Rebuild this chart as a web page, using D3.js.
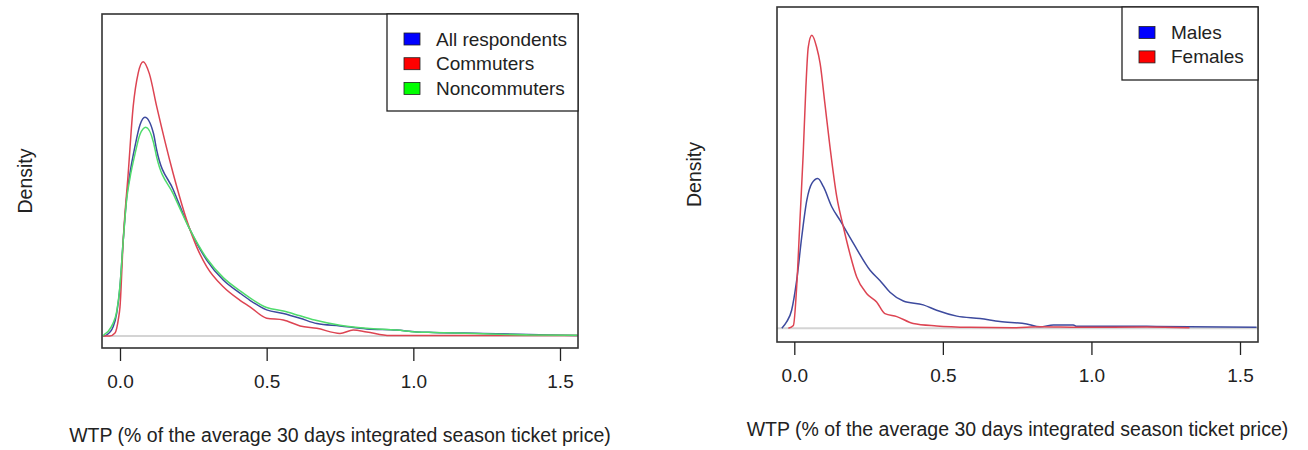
<!DOCTYPE html>
<html>
<head>
<meta charset="utf-8">
<script src="https://cdn.jsdelivr.net/npm/d3@7"></script>
<style>
  body { margin: 0; background: #fff; }
  text { font-family: "Liberation Sans", Arial, sans-serif; fill: #222; }
</style>
</head>
<body>
<div id="viz"></div>
<script>
// tick labels shared by both panels
var xTicks = [0, 0.5, 1.0, 1.5]

// left panel: density of WTP, [wtp, density]
var allRespondents = [[-0.058,0],[-0.045,0.02],[-0.023,0.16],[-0.011,0.39],[0,0.83],[0.011,1.61],[0.023,2.34],
  [0.034,2.73],[0.051,3.18],[0.068,3.54],[0.085,3.67],[0.114,3.40],[0.125,3.12],[0.182,2.45],[0.239,1.78],
  [0.296,1.27],[0.352,0.94],[0.409,0.72],[0.443,0.60],[0.5,0.44],[0.557,0.38],[0.614,0.30],[0.671,0.21],
  [0.75,0.17],[0.841,0.12],[0.943,0.10],[1.011,0.07],[1.068,0.06],[1.239,0.045],[1.466,0.02],[1.56,0.01]]
var commuters = [[-0.058,0],[-0.035,0],[-0.017,0.05],[-0.005,0.3],[0,0.49],[0.011,1.61],[0.028,2.73],
  [0.045,3.85],[0.062,4.41],[0.079,4.60],[0.10,4.40],[0.125,3.85],[0.181,2.73],[0.227,1.95],[0.261,1.50],
  [0.296,1.16],[0.351,0.83],[0.409,0.60],[0.443,0.49],[0.5,0.30],[0.557,0.27],[0.614,0.17],[0.671,0.13],
  [0.75,0.045],[0.795,0.10],[0.841,0.07],[0.92,0.01],[1.1,0.01],[1.31,0.008],[1.56,0.01]]
var noncommuters = [[-0.058,0],[-0.055,0.02],[-0.04,0.08],[-0.025,0.2],[-0.011,0.42],[0,0.85],[0.011,1.6],
  [0.023,2.3],[0.034,2.65],[0.051,3.05],[0.068,3.38],[0.088,3.50],[0.114,3.25],[0.125,3.0],[0.182,2.38],
  [0.239,1.78],[0.296,1.3],[0.352,0.98],[0.409,0.76],[0.443,0.64],[0.5,0.48],[0.557,0.42],[0.614,0.34],
  [0.671,0.26],[0.75,0.18],[0.841,0.13],[0.943,0.10],[1.011,0.07],[1.068,0.06],[1.239,0.04],[1.4,0.02],[1.56,0.015]]

// right panel
var males = [[-0.042,0],[-0.026,0.13],[-0.009,0.37],[0.008,0.98],[0.025,1.87],[0.042,2.62],[0.059,2.97],
  [0.079,3.07],[0.098,2.90],[0.126,2.49],[0.154,2.21],[0.199,1.74],[0.255,1.19],[0.288,0.98],[0.322,0.74],
  [0.367,0.56],[0.434,0.48],[0.479,0.37],[0.547,0.25],[0.625,0.20],[0.692,0.14],[0.782,0.09],[0.827,0.03],
  [0.872,0.07],[0.939,0.07],[0.95,0.04],[1.186,0.04],[1.556,0.02]]
var females = [[-0.02,0],[-0.003,0.06],[0.008,0.85],[0.019,2.21],[0.030,3.58],[0.039,4.94],[0.047,5.76],
  [0.059,6.0],[0.075,5.76],[0.087,5.42],[0.103,4.60],[0.120,3.72],[0.143,2.69],[0.165,2.08],[0.187,1.53],
  [0.21,1.05],[0.244,0.71],[0.277,0.54],[0.305,0.30],[0.345,0.24],[0.40,0.10],[0.479,0.05],[0.591,0.02],
  [0.736,0.01],[0.827,0.03],[0.961,0.02],[1.186,0.025],[1.33,0.01]]

var leftNames = ["All respondents", "Commuters", "Noncommuters"]
var rightNames = ["Males", "Females"]
var legendFill = ["#0000ff", "#ff0000", "#00ff00"]
var lineColor = ["#3d4a9e", "#dd4452", "#4fdc6c"]
var xTitle = "WTP (% of the average 30 days integrated season ticket price)"

var svg = d3.select("#viz").append("svg").attr("width", 1308).attr("height", 450)

function panel(opt) {
  var x = d3.scaleLinear().domain([0, 1.5]).range(opt.xr)
  var y = d3.scaleLinear().domain(opt.yd).range([opt.bottom, opt.top])
  var g = svg.append("g")
  var id = "clip" + opt.key

  g.append("clipPath").attr("id", id).append("rect")
    .attr("x", opt.left).attr("y", opt.top)
    .attr("width", opt.right - opt.left).attr("height", opt.bottom - opt.top)

  // zero line
  g.append("line")
    .attr("x1", opt.left).attr("x2", opt.right)
    .attr("y1", y(0)).attr("y2", y(0))
    .attr("stroke", "#d4d4d4").attr("stroke-width", 2)

  var line = d3.line().x(function(d) { return x(d[0]) }).y(function(d) { return y(d[1]) })
    .curve(d3.curveMonotoneX)

  g.append("g").attr("clip-path", "url(#" + id + ")")
    .selectAll("path").data(opt.series).enter().append("path")
    .attr("d", line)
    .attr("fill", "none")
    .attr("stroke", function(d, i) { return lineColor[opt.colors[i]] })
    .attr("stroke-width", 1.5)

  // frame
  g.append("rect")
    .attr("x", opt.left).attr("y", opt.top)
    .attr("width", opt.right - opt.left).attr("height", opt.bottom - opt.top)
    .attr("fill", "none").attr("stroke", "#333").attr("stroke-width", 1.6)

  var axis = d3.axisBottom(x).tickValues(xTicks).tickSize(13).tickPadding(14)
    .tickFormat(d3.format(".1f"))
  var ax = g.append("g").attr("transform", "translate(0," + opt.bottom + ")").call(axis)
  ax.select(".domain").remove()
  ax.selectAll(".tick line").attr("stroke", "#222").attr("stroke-width", 1.3)
  ax.selectAll(".tick text").attr("font-size", 19).attr("fill", "#333")
    .style("font-family", "'Liberation Sans', Arial, sans-serif")

  g.append("text")
    .attr("x", (opt.left + opt.right) / 2).attr("y", opt.bottom + 94)
    .attr("text-anchor", "middle").attr("font-size", 19.5)
    .text(xTitle)

  g.append("text")
    .attr("transform", "translate(" + opt.ylabX + "," + (opt.top + opt.bottom) / 2 + ") rotate(-90)")
    .attr("text-anchor", "middle").attr("font-size", 19.5)
    .text("Density")

  // legend
  var lg = g.append("g")
  lg.append("rect")
    .attr("x", opt.leg[0]).attr("y", opt.top)
    .attr("width", opt.right - opt.leg[0]).attr("height", opt.leg[1] - opt.top)
    .attr("fill", "#fff").attr("stroke", "#222").attr("stroke-width", 1.3)
  var row = lg.selectAll("g.row").data(opt.names).enter().append("g")
    .attr("transform", function(d, i) { return "translate(" + (opt.leg[0] + 17) + "," + (opt.leg[2] + i * opt.leg[3]) + ")" })
  row.append("rect")
    .attr("x", 0).attr("y", -6).attr("width", 16).attr("height", 12)
    .attr("fill", function(d, i) { return legendFill[opt.colors[i]] })
    .attr("stroke", "#222").attr("stroke-width", 0.8)
  row.append("text")
    .attr("x", 32).attr("y", 6.5).attr("font-size", 19)
    .text(function(d) { return d })
}

panel({
  key: "L", xr: [120, 560], yd: [-0.2, 5.4],
  left: 102, right: 578, top: 14, bottom: 348, ylabX: 32,
  series: [allRespondents, commuters, noncommuters], colors: [0, 1, 2],
  names: leftNames, leg: [387, 111, 39, 24.7]
})

panel({
  key: "R", xr: [794.3, 1240], yd: [-0.28, 6.58],
  left: 777, right: 1258, top: 7, bottom: 342, ylabX: 701,
  series: [males, females], colors: [0, 1],
  names: rightNames, leg: [1122, 80, 32.5, 24.4]
})
</script>
</body>
</html>
